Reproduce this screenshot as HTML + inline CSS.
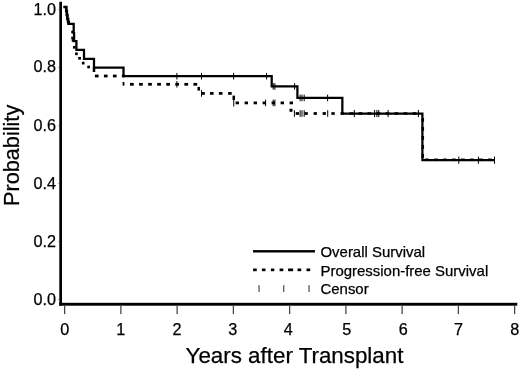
<!DOCTYPE html>
<html><head><meta charset="utf-8"><title>Survival</title>
<style>
html,body{margin:0;padding:0;background:#fff;}
svg{display:block;will-change:transform}
text{font-family:"Liberation Sans",Arial,sans-serif;fill:#000;stroke:#000;stroke-width:0.25px}
</style></head><body>
<svg width="520" height="370" viewBox="0 0 520 370">
<rect width="520" height="370" fill="#fff"/>
<rect x="59.3" y="1.8" width="2.7" height="303.9" fill="#000"/>
<rect x="59.3" y="302.8" width="458" height="2.9" fill="#000"/>
<rect x="58.5" y="9" width="1" height="1" fill="#555"/>
<rect x="58.5" y="67" width="1" height="1" fill="#555"/>
<rect x="58.5" y="125" width="1" height="1" fill="#555"/>
<rect x="58.5" y="183" width="1" height="1" fill="#555"/>
<rect x="58.5" y="241" width="1" height="1" fill="#555"/>
<rect x="58.5" y="299" width="1" height="1" fill="#555"/>
<rect x="64" y="305.7" width="1.25" height="8.4" fill="#444"/>
<text x="64.8" y="335.3" font-size="16.2" text-anchor="middle">0</text>
<rect x="120.25" y="305.7" width="1.25" height="8.4" fill="#444"/>
<text x="120.75" y="335.3" font-size="16.2" text-anchor="middle">1</text>
<rect x="176.5" y="305.7" width="1.25" height="8.4" fill="#444"/>
<text x="177" y="335.3" font-size="16.2" text-anchor="middle">2</text>
<rect x="232.75" y="305.7" width="1.25" height="8.4" fill="#444"/>
<text x="232.75" y="335.3" font-size="16.2" text-anchor="middle">3</text>
<rect x="289" y="305.7" width="1.25" height="8.4" fill="#444"/>
<text x="288.2" y="335.3" font-size="16.2" text-anchor="middle">4</text>
<rect x="345.25" y="305.7" width="1.25" height="8.4" fill="#444"/>
<text x="346.85" y="335.3" font-size="16.2" text-anchor="middle">5</text>
<rect x="401.5" y="305.7" width="1.25" height="8.4" fill="#444"/>
<text x="403.2" y="335.3" font-size="16.2" text-anchor="middle">6</text>
<rect x="457.75" y="305.7" width="1.25" height="8.4" fill="#444"/>
<text x="458.55" y="335.3" font-size="16.2" text-anchor="middle">7</text>
<rect x="514" y="305.7" width="1.25" height="8.4" fill="#444"/>
<text x="514.8" y="335.3" font-size="16.2" text-anchor="middle">8</text>
<text x="55.9" y="14.8" font-size="16.2" text-anchor="end">1.0</text>
<text x="55.9" y="72.4" font-size="16.2" text-anchor="end">0.8</text>
<text x="55.9" y="130.5" font-size="16.2" text-anchor="end">0.6</text>
<text x="55.9" y="188.6" font-size="16.2" text-anchor="end">0.4</text>
<text x="55.9" y="246.7" font-size="16.2" text-anchor="end">0.2</text>
<text x="55.9" y="304.8" font-size="16.2" text-anchor="end">0.0</text>
<text transform="translate(18.8,155.4) rotate(-90)" font-size="21.7" text-anchor="middle">Probability</text>
<text x="185.6" y="363" font-size="22.35">Years after Transplant</text>
<rect x="253" y="250.1" width="62" height="2.4" fill="#000"/>
<rect x="253.1" y="268.5" width="3.65" height="2.7" fill="#000"/>
<rect x="261.9" y="268.5" width="3.6" height="2.7" fill="#000"/>
<rect x="270.9" y="268.5" width="3.4" height="2.7" fill="#000"/>
<rect x="279.6" y="268.5" width="3.7" height="2.7" fill="#000"/>
<rect x="288.1" y="268.5" width="5" height="2.7" fill="#000"/>
<rect x="297.5" y="268.5" width="3.7" height="2.7" fill="#000"/>
<rect x="306.5" y="268.5" width="3.7" height="2.7" fill="#000"/>
<rect x="258.5" y="285.2" width="1.1" height="6.8" fill="#3a3a3a"/>
<rect x="283.2" y="285.2" width="1.1" height="6.8" fill="#3a3a3a"/>
<rect x="308.5" y="285.2" width="1.1" height="6.8" fill="#3a3a3a"/>
<text x="320.5" y="256.6" font-size="14.95">Overall Survival</text>
<text x="320.5" y="275.5" font-size="14.95">Progression-free Survival</text>
<text x="320.5" y="294.3" font-size="14.95">Censor</text>
<g id="pfs">
<rect x="71.25" y="30.65" width="2.7" height="2.7" fill="#000"/>
<rect x="71.25" y="36.65" width="2.7" height="2.7" fill="#000"/>
<rect x="71.75" y="39.15" width="2.7" height="2.7" fill="#000"/>
<rect x="72.95" y="45.95" width="2.7" height="2.7" fill="#000"/>
<rect x="75.05" y="52.45" width="2.7" height="2.7" fill="#000"/>
<rect x="78.25" y="56.95" width="2.7" height="2.7" fill="#000"/>
<rect x="81.85" y="61.75" width="2.7" height="2.7" fill="#000"/>
<rect x="87.25" y="65.65" width="2.7" height="2.7" fill="#000"/>
<rect x="92.75" y="67.5" width="2.5" height="4.5" fill="#000"/>
<rect x="94.9" y="74.62" width="3.7" height="2.75" fill="#000"/>
<rect x="103.9" y="74.62" width="3.7" height="2.75" fill="#000"/>
<rect x="112.9" y="74.62" width="3.7" height="2.75" fill="#000"/>
<rect x="121.9" y="74.62" width="2.8" height="2.75" fill="#000"/>
<rect x="122.6" y="82" width="1.8" height="3.6" fill="#000"/>
<rect x="130" y="82.92" width="3.75" height="2.75" fill="#000"/>
<rect x="139.06" y="82.92" width="3.75" height="2.75" fill="#000"/>
<rect x="148.12" y="82.92" width="3.75" height="2.75" fill="#000"/>
<rect x="157.18" y="82.92" width="3.75" height="2.75" fill="#000"/>
<rect x="166.24" y="82.92" width="3.75" height="2.75" fill="#000"/>
<rect x="175.3" y="82.92" width="3.75" height="2.75" fill="#000"/>
<rect x="184.36" y="82.92" width="3.75" height="2.75" fill="#000"/>
<rect x="193.42" y="82.92" width="3.75" height="2.75" fill="#000"/>
<rect x="197.5" y="86.9" width="2.5" height="3.7" fill="#000"/>
<rect x="201.25" y="92.03" width="3.6" height="2.75" fill="#000"/>
<rect x="210" y="92.03" width="3.6" height="2.75" fill="#000"/>
<rect x="218.9" y="92.03" width="3.6" height="2.75" fill="#000"/>
<rect x="228.1" y="92.03" width="3.6" height="2.75" fill="#000"/>
<rect x="232.5" y="95.6" width="2.5" height="4.4" fill="#000"/>
<rect x="235.6" y="101.53" width="3.4" height="2.75" fill="#000"/>
<rect x="244.6" y="101.53" width="3.4" height="2.75" fill="#000"/>
<rect x="253.6" y="101.53" width="3.4" height="2.75" fill="#000"/>
<rect x="262.6" y="101.53" width="3.4" height="2.75" fill="#000"/>
<rect x="271.6" y="101.53" width="3.4" height="2.75" fill="#000"/>
<rect x="280.6" y="101.53" width="3.4" height="2.75" fill="#000"/>
<rect x="289.6" y="101.53" width="3.4" height="2.75" fill="#000"/>
<rect x="289.5" y="108.8" width="3" height="3" fill="#000"/>
<rect x="295.7" y="112.12" width="3.3" height="2.75" fill="#000"/>
<rect x="304.5" y="112.12" width="3.3" height="2.75" fill="#000"/>
<rect x="313.6" y="112.12" width="3.3" height="2.75" fill="#000"/>
<rect x="322.6" y="112.12" width="3.3" height="2.75" fill="#000"/>
<rect x="331.4" y="112.12" width="3.3" height="2.75" fill="#000"/>
<rect x="340.5" y="112.12" width="3.3" height="2.75" fill="#000"/>
<rect x="349.5" y="112.2" width="3.8" height="2.6" fill="#000"/>
<rect x="358.5" y="112.2" width="3.8" height="2.6" fill="#000"/>
<rect x="367.5" y="112.2" width="3.8" height="2.6" fill="#000"/>
<rect x="376.5" y="112.2" width="3.8" height="2.6" fill="#000"/>
<rect x="385.5" y="112.2" width="3.8" height="2.6" fill="#000"/>
<rect x="394.5" y="112.2" width="3.8" height="2.6" fill="#000"/>
<rect x="403.5" y="112.2" width="3.8" height="2.6" fill="#000"/>
<rect x="412.5" y="112.2" width="3.8" height="2.6" fill="#000"/>
<rect x="421.55" y="118" width="2.5" height="3.8" fill="#000"/>
<rect x="421.55" y="127" width="2.5" height="3.8" fill="#000"/>
<rect x="421.55" y="136" width="2.5" height="3.8" fill="#000"/>
<rect x="421.55" y="145" width="2.5" height="3.8" fill="#000"/>
<rect x="421.55" y="154" width="2.5" height="3.8" fill="#000"/>
<rect x="425" y="158.55" width="3.8" height="2.5" fill="#000"/>
<rect x="434" y="158.55" width="3.8" height="2.5" fill="#000"/>
<rect x="443" y="158.55" width="3.8" height="2.5" fill="#000"/>
<rect x="452" y="158.55" width="3.8" height="2.5" fill="#000"/>
<rect x="461" y="158.55" width="3.8" height="2.5" fill="#000"/>
<rect x="470" y="158.55" width="3.8" height="2.5" fill="#000"/>
<rect x="479" y="158.55" width="3.8" height="2.5" fill="#000"/>
<rect x="488" y="158.55" width="3.8" height="2.5" fill="#000"/>
</g>
<path d="M67.6,23.9 H73.7 V33 H74.1 V41 H76.4 V49.9 H84 V58.9 H94 V67.5 H123.5 V76.2 H271.7 V86.4 H297.4 V97.9 H342.35 V113.5 H422.4 V160.2 H494.6" fill="none" stroke="#000" stroke-width="2.25" stroke-linejoin="miter"/>
<path d="M63.3,7 H66.3 V11 H66.8 V15 H67.4 V19 H68.1 V22 H68.7 V25" fill="none" stroke="#000" stroke-width="2.7"/>
<rect x="176.4" y="72.9" width="1" height="6.6" fill="#000"/>
<rect x="201" y="72.9" width="1" height="6.6" fill="#000"/>
<rect x="233.1" y="72.9" width="1" height="6.6" fill="#000"/>
<rect x="266.1" y="72.9" width="1" height="6.6" fill="#000"/>
<rect x="272.7" y="83.1" width="1" height="6.6" fill="#000"/>
<rect x="274.4" y="83.1" width="1" height="6.6" fill="#000"/>
<rect x="294.1" y="83.1" width="1" height="6.6" fill="#000"/>
<rect x="299.6" y="94.6" width="1" height="6.6" fill="#000"/>
<rect x="301.5" y="94.6" width="1" height="6.6" fill="#000"/>
<rect x="303.7" y="94.6" width="1" height="6.6" fill="#000"/>
<rect x="327.1" y="94.6" width="1" height="6.6" fill="#000"/>
<rect x="353.8" y="109.9" width="1" height="7.2" fill="#000"/>
<rect x="374.1" y="109.9" width="1" height="7.2" fill="#000"/>
<rect x="376.4" y="109.9" width="1" height="7.2" fill="#000"/>
<rect x="378.25" y="109.9" width="1" height="7.2" fill="#000"/>
<rect x="387.6" y="109.9" width="1" height="7.2" fill="#000"/>
<rect x="417.9" y="109.9" width="1" height="7.2" fill="#000"/>
<rect x="458.3" y="156.6" width="1" height="7.2" fill="#000"/>
<rect x="477.9" y="156.6" width="1" height="7.2" fill="#000"/>
<rect x="494" y="156.6" width="1" height="7.2" fill="#000"/>
<rect x="176.4" y="81" width="1" height="6.6" fill="#000"/>
<rect x="201" y="90.1" width="1" height="6.6" fill="#000"/>
<rect x="233.25" y="99.5" width="1" height="7" fill="#000"/>
<rect x="265.1" y="99.6" width="1" height="6.6" fill="#000"/>
<rect x="272.7" y="99.6" width="1" height="6.6" fill="#000"/>
<rect x="274.4" y="99.6" width="1" height="6.6" fill="#000"/>
<rect x="293.9" y="110.2" width="1" height="6.6" fill="#000"/>
<rect x="299.6" y="110.2" width="1" height="6.6" fill="#000"/>
<rect x="301.5" y="110.2" width="1" height="6.6" fill="#000"/>
<rect x="303.7" y="110.2" width="1" height="6.6" fill="#000"/>
<rect x="327.2" y="110.2" width="1" height="6.6" fill="#000"/>
</svg>
</body></html>
